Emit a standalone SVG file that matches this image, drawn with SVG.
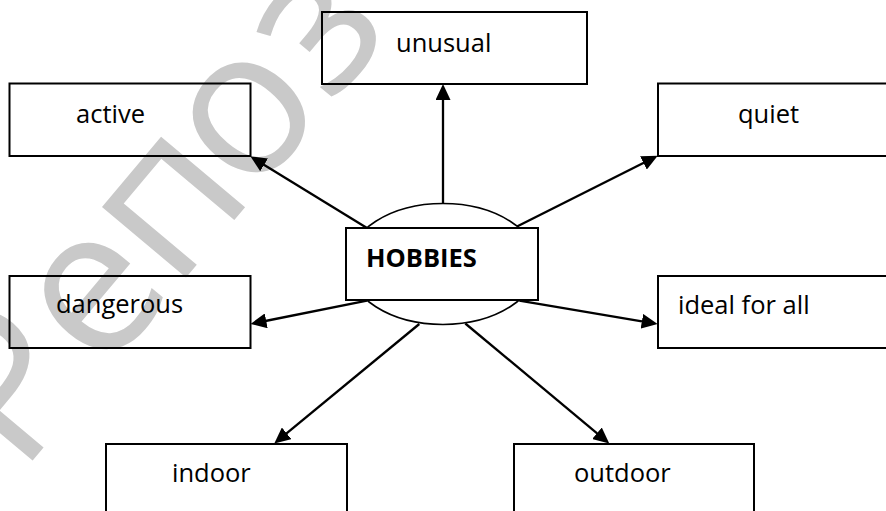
<svg xmlns="http://www.w3.org/2000/svg" width="886" height="511" viewBox="0 0 886 511">
  <style>
    .box { fill: none; stroke: #000; stroke-width: 2; }
    .lbl { font-family: "Open Sans", "Liberation Sans", sans-serif; font-size: 25.5px; fill: #000; }
    .conn { stroke: #000; stroke-width: 2.3; fill: none; marker-end: url(#arrow); }
    .wm { font-family: "Open Sans", "Liberation Sans", sans-serif; font-size: 205px; fill: #c9c9c9; text-anchor: middle; }
  </style>
  <defs>
    <marker id="arrow" markerUnits="userSpaceOnUse" markerWidth="16" markerHeight="15" refX="6" refY="7.5" orient="auto">
      <path d="M0,0 L16,7.5 L0,15 Z" fill="#000"/>
    </marker>
  </defs>
  <rect x="0" y="0" width="886" height="511" fill="#fff"/>
  <text class="wm" transform="rotate(-50)"><tspan x="-290" y="321">Р</tspan><tspan x="-165" y="321">е</tspan><tspan x="-47" y="321">п</tspan><tspan x="70" y="321">о</tspan><tspan x="182" y="321">з</tspan></text>

  <g id="connectors">
    <line class="conn" x1="443" y1="204" x2="443" y2="94"/>
    <line class="conn" x1="367" y1="228" x2="259" y2="161.7"/>
    <line class="conn" x1="516" y1="227" x2="648.8" y2="160.2"/>
    <line class="conn" x1="367" y1="300.7" x2="260.3" y2="322"/>
    <line class="conn" x1="519.3" y1="300.7" x2="647.8" y2="322.3"/>
    <line class="conn" x1="419.3" y1="324" x2="282" y2="437.1"/>
    <line class="conn" x1="465.3" y1="323.5" x2="601.6" y2="437.1"/>
  </g>

  <g id="hobbies">
    <ellipse cx="443" cy="264" rx="95" ry="60.5" fill="#fff" stroke="#000" stroke-width="1.6"/>
    <rect x="346" y="228" width="192" height="72" fill="#fff" stroke="#000" stroke-width="2"/>
    <text class="lbl" x="366" y="267" font-weight="bold" font-size="25px">HOBBIES</text>
  </g>
  <g id="unusual">
    <rect class="box" x="322" y="12" width="265" height="72"/>
    <text class="lbl" x="396" y="52">unusual</text>
  </g>
  <g id="active">
    <rect class="box" x="9.5" y="83.5" width="241" height="72.5"/>
    <text class="lbl" x="76" y="123">active</text>
  </g>
  <g id="quiet">
    <rect class="box" x="658" y="83.5" width="240" height="72.5"/>
    <text class="lbl" x="738" y="123">quiet</text>
  </g>
  <g id="dangerous">
    <rect class="box" x="9.5" y="276" width="241" height="72"/>
    <text class="lbl" x="56" y="313">dangerous</text>
  </g>
  <g id="ideal">
    <rect class="box" x="658" y="276" width="240" height="72"/>
    <text class="lbl" x="678" y="314">ideal for all</text>
  </g>
  <g id="indoor">
    <rect class="box" x="106" y="444" width="241" height="80"/>
    <text class="lbl" x="172" y="482">indoor</text>
  </g>
  <g id="outdoor">
    <rect class="box" x="514" y="444" width="240" height="80"/>
    <text class="lbl" x="574" y="482">outdoor</text>
  </g>
</svg>
